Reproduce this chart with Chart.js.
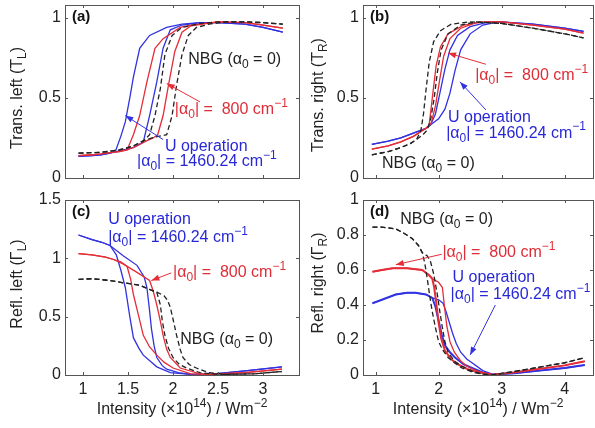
<!DOCTYPE html>
<html><head><meta charset="utf-8">
<script src="https://cdn.jsdelivr.net/npm/chart.js@4.4.1/dist/chart.umd.min.js"></script>
<style>
html,body{margin:0;padding:0;background:#fff;width:595px;height:428px;overflow:hidden}
canvas{position:absolute;left:0;top:0}
</style></head><body>
<canvas id="ca" width="595" height="428"></canvas>
<canvas id="cb" width="595" height="428"></canvas>
<canvas id="cc" width="595" height="428"></canvas>
<canvas id="cd" width="595" height="428"></canvas>
<script>
// ---------- tick labels ----------
const xTicksLeft = [1, 1.5, 2, 2.5, 3];
const xTicksRight = [1, 2, 3, 4];
const yTicksT = [0, 0.5, 1];
const yTicksRL = [0, 0.5, 1, 1.5];
const yTicksRR = [0, 0.2, 0.4, 0.6, 0.8, 1];

// ---------- (a) Transmission left ----------
const aBlue1X = [0.95,1.1,1.2,1.3,1.36,1.42,1.47,1.52,1.56,1.63,1.74,1.93,2.1,2.3,2.5,2.8,3.0,3.22];
const aBlue1Y = [0.135,0.14,0.145,0.155,0.165,0.26,0.35,0.5,0.63,0.81,0.89,0.94,0.96,0.97,0.97,0.96,0.94,0.91];
const aBlue2X = [0.95,1.1,1.2,1.3,1.45,1.56,1.67,1.74,1.82,1.89,1.97,2.1,2.3,2.5,2.8,3.0,3.22];
const aBlue2Y = [0.135,0.14,0.145,0.155,0.175,0.19,0.225,0.39,0.6,0.81,0.925,0.955,0.97,0.97,0.96,0.94,0.91];
const aRed1X = [0.95,1.1,1.2,1.3,1.4,1.49,1.56,1.63,1.71,1.8,1.89,2.08,2.2,2.5,2.8,3.0,3.22];
const aRed1Y = [0.14,0.145,0.15,0.158,0.165,0.175,0.27,0.39,0.6,0.81,0.87,0.94,0.955,0.975,0.97,0.955,0.935];
const aRed2X = [0.95,1.1,1.2,1.3,1.4,1.49,1.6,1.7,1.78,1.83,1.89,1.95,2.02,2.1,2.2,2.5,2.8,3.0,3.22];
const aRed2Y = [0.14,0.145,0.15,0.158,0.165,0.175,0.2,0.23,0.25,0.27,0.39,0.58,0.79,0.91,0.95,0.975,0.97,0.955,0.935];
const aNbg1X = [0.95,1.2,1.4,1.56,1.68,1.74,1.8,1.86,1.91,1.99,2.1,2.3,2.5,2.8,3.0,3.22];
const aNbg1Y = [0.155,0.16,0.175,0.2,0.235,0.27,0.39,0.56,0.77,0.89,0.94,0.965,0.975,0.975,0.97,0.96];
const aNbg2X = [0.95,1.2,1.4,1.56,1.68,1.8,1.93,1.99,2.04,2.1,2.17,2.26,2.4,2.6,2.8,3.0,3.22];
const aNbg2Y = [0.155,0.16,0.175,0.2,0.235,0.255,0.27,0.39,0.58,0.77,0.89,0.94,0.96,0.975,0.975,0.97,0.96];

// ---------- (b) Transmission right ----------
const bBlue1X = [0.94,1.2,1.4,1.6,1.8,1.87,1.95,2.02,2.1,2.18,2.3,2.5,2.8,3.0,3.5,4.0,4.3];
const bBlue1Y = [0.21,0.23,0.25,0.28,0.31,0.33,0.4,0.53,0.68,0.8,0.89,0.945,0.975,0.975,0.96,0.935,0.915];
const bBlue2X = [0.94,1.2,1.4,1.6,1.8,1.9,2.0,2.1,2.18,2.26,2.35,2.5,2.7,2.95,3.5,4.0,4.3];
const bBlue2Y = [0.21,0.23,0.25,0.28,0.31,0.34,0.37,0.43,0.53,0.67,0.8,0.9,0.955,0.975,0.96,0.935,0.915];
const bRed1X = [0.94,1.2,1.4,1.6,1.8,1.85,1.9,1.96,2.03,2.15,2.4,2.7,3.0,3.5,4.0,4.3];
const bRed1Y = [0.18,0.2,0.225,0.26,0.31,0.33,0.5,0.7,0.82,0.9,0.955,0.975,0.975,0.955,0.93,0.905];
const bRed2X = [0.94,1.2,1.4,1.6,1.8,1.88,1.95,2.02,2.08,2.18,2.35,2.6,2.8,3.0,3.5,4.0,4.3];
const bRed2Y = [0.18,0.2,0.225,0.26,0.31,0.34,0.45,0.62,0.76,0.87,0.935,0.97,0.975,0.975,0.955,0.93,0.905];
const bNbg1X = [0.94,1.2,1.4,1.55,1.65,1.72,1.76,1.8,1.85,1.92,2.03,2.2,2.5,3.0,3.5,4.0,4.3];
const bNbg1Y = [0.145,0.165,0.19,0.215,0.24,0.3,0.4,0.55,0.72,0.85,0.92,0.96,0.975,0.965,0.935,0.9,0.875];
const bNbg2X = [0.94,1.2,1.4,1.55,1.65,1.75,1.82,1.88,1.93,1.98,2.04,2.15,2.35,2.6,3.0,3.5,4.0,4.3];
const bNbg2Y = [0.145,0.165,0.19,0.215,0.24,0.27,0.3,0.38,0.5,0.66,0.8,0.9,0.955,0.975,0.965,0.935,0.9,0.875];

// ---------- (c) Reflection left ----------
const cBlue1X = [0.95,1.1,1.2,1.3,1.37,1.42,1.47,1.52,1.56,1.62,1.67,1.82,1.97,2.2,2.4,2.8,3.21];
const cBlue1Y = [1.2,1.16,1.14,1.11,1.03,0.9,0.75,0.5,0.32,0.23,0.17,0.07,0.02,0.005,0.005,0.035,0.07];
const cBlue2X = [0.95,1.1,1.2,1.3,1.45,1.6,1.68,1.71,1.74,1.76,1.79,1.82,1.88,1.93,2.06,2.2,2.4,2.8,3.21];
const cBlue2Y = [1.2,1.16,1.14,1.11,1.02,0.94,0.84,0.75,0.55,0.4,0.25,0.15,0.08,0.05,0.02,0.005,0.005,0.035,0.07];
const cRed1X = [0.95,1.1,1.25,1.34,1.42,1.49,1.53,1.56,1.62,1.67,1.74,1.82,1.9,2.0,2.2,2.4,2.8,3.21];
const cRed1Y = [1.04,1.03,1.01,0.99,0.97,0.93,0.82,0.69,0.5,0.34,0.24,0.17,0.11,0.06,0.01,0.005,0.02,0.05];
const cRed2X = [0.95,1.1,1.25,1.34,1.45,1.6,1.74,1.78,1.82,1.86,1.89,1.93,1.97,2.08,2.3,2.4,2.8,3.21];
const cRed2Y = [1.04,1.03,1.01,0.99,0.95,0.88,0.81,0.72,0.6,0.46,0.34,0.22,0.15,0.06,0.01,0.005,0.02,0.05];
const cNbg1X = [0.95,1.1,1.3,1.45,1.63,1.75,1.82,1.86,1.88,1.91,1.95,2.0,2.07,2.15,2.3,2.5,2.9,3.21];
const cNbg1Y = [0.82,0.825,0.81,0.79,0.77,0.73,0.71,0.6,0.47,0.34,0.23,0.15,0.09,0.06,0.02,0.005,0.01,0.03];
const cNbg2X = [0.95,1.1,1.3,1.45,1.63,1.75,1.82,1.9,1.94,1.97,2.0,2.04,2.08,2.11,2.18,2.26,2.4,2.6,2.9,3.21];
const cNbg2Y = [0.82,0.825,0.81,0.79,0.77,0.73,0.71,0.68,0.64,0.58,0.48,0.34,0.22,0.15,0.09,0.06,0.02,0.005,0.01,0.03];

// ---------- (d) Reflection right ----------
const dBlue1X = [0.95,1.1,1.32,1.5,1.63,1.8,1.9,1.95,2.0,2.05,2.1,2.18,2.26,2.4,2.53,2.7,2.85,3.2,3.6,4.0,4.32];
const dBlue1Y = [0.41,0.43,0.46,0.47,0.47,0.46,0.44,0.39,0.31,0.23,0.17,0.13,0.1,0.06,0.04,0.015,0.002,0.01,0.025,0.04,0.057];
const dBlue2X = [0.95,1.1,1.32,1.5,1.63,1.8,1.9,2.0,2.07,2.12,2.17,2.22,2.28,2.35,2.45,2.53,2.7,2.85,3.2,3.6,4.0,4.32];
const dBlue2Y = [0.41,0.43,0.46,0.47,0.47,0.46,0.44,0.43,0.41,0.36,0.3,0.24,0.18,0.13,0.09,0.07,0.025,0.005,0.01,0.025,0.04,0.057];
const dRed1X = [0.95,1.1,1.27,1.5,1.74,1.85,1.9,1.93,1.96,2.0,2.04,2.1,2.2,2.31,2.45,2.63,2.85,3.2,3.6,4.0,4.32];
const dRed1Y = [0.59,0.6,0.61,0.61,0.6,0.57,0.55,0.5,0.42,0.3,0.21,0.14,0.09,0.06,0.035,0.015,0.002,0.015,0.035,0.055,0.078];
const dRed2X = [0.95,1.1,1.27,1.5,1.74,1.85,1.9,2.0,2.06,2.09,2.13,2.18,2.25,2.35,2.45,2.63,2.85,3.2,3.6,4.0,4.32];
const dRed2Y = [0.59,0.6,0.61,0.61,0.6,0.57,0.55,0.53,0.5,0.4,0.28,0.19,0.13,0.08,0.05,0.02,0.002,0.015,0.035,0.055,0.078];
const dNbg1X = [0.95,1.1,1.32,1.45,1.58,1.68,1.74,1.78,1.82,1.86,1.9,1.95,2.0,2.07,2.15,2.25,2.37,2.55,2.7,2.85,3.2,3.6,4.0,4.32];
const dNbg1Y = [0.845,0.845,0.835,0.81,0.78,0.74,0.7,0.64,0.55,0.45,0.36,0.27,0.19,0.14,0.1,0.07,0.04,0.015,0.005,0,0.02,0.045,0.07,0.1];
const dNbg2X = [0.95,1.1,1.32,1.45,1.58,1.68,1.74,1.82,1.87,1.92,1.98,2.02,2.06,2.1,2.15,2.25,2.37,2.55,2.7,2.85,3.2,3.6,4.0,4.32];
const dNbg2Y = [0.845,0.845,0.835,0.81,0.78,0.74,0.7,0.68,0.65,0.58,0.46,0.36,0.27,0.19,0.13,0.08,0.05,0.02,0.005,0,0.02,0.045,0.07,0.1];

// ---------- styles ----------
const FONT = "'Liberation Sans', Arial, Helvetica, sans-serif";
const BLUE = 'rgb(50,50,225)';
const RED = 'rgb(228,45,55)';
const BLACK = '#222';
const BLUE_TXT = 'rgb(40,40,215)';
const RED_TXT = 'rgb(222,45,55)';

function S(x, y, color, dash, width) { return { x, y, color, dash, width }; }

const A800 = [['|α',''],['0','sub'],['| =  800 cm',''],['−1','sup']];
const A1460 = [['|α',''],['0','sub'],['| = 1460.24 cm',''],['−1','sup']];
const UOP = [['U operation','']];
const NBG = [['NBG (α',''],['0','sub'],[' = 0)','']];
const XTITLE = [['Intensity (×10',''],['14','sup'],[') / Wm',''],['−2','sup']];

function drawRich(ctx, segs, x, y, size, color, align) {
  const small = Math.round(size * 0.72);
  let w = 0;
  segs.forEach(s => {
    ctx.font = (s[1] ? small : size) + 'px ' + FONT;
    w += ctx.measureText(s[0]).width;
  });
  let cx = align === 'center' ? x - w / 2 : x;
  ctx.fillStyle = color;
  ctx.textBaseline = 'middle';
  ctx.textAlign = 'left';
  segs.forEach(s => {
    ctx.font = (s[1] ? small : size) + 'px ' + FONT;
    const dy = s[1] === 'sub' ? size * 0.32 : (s[1] === 'sup' ? -size * 0.38 : 0);
    ctx.fillText(s[0], cx, y + dy);
    cx += ctx.measureText(s[0]).width;
  });
}

function arrow(ctx, x1, y1, x2, y2, color) {
  ctx.strokeStyle = color; ctx.fillStyle = color; ctx.lineWidth = 1;
  ctx.setLineDash([]);
  ctx.beginPath(); ctx.moveTo(x1, y1); ctx.lineTo(x2, y2); ctx.stroke();
  const ang = Math.atan2(y2 - y1, x2 - x1), L = 8, H = 3;
  ctx.beginPath();
  ctx.moveTo(x2, y2);
  ctx.lineTo(x2 - L * Math.cos(ang) + H * Math.sin(ang), y2 - L * Math.sin(ang) - H * Math.cos(ang));
  ctx.lineTo(x2 - L * Math.cos(ang) - H * Math.sin(ang), y2 - L * Math.sin(ang) + H * Math.cos(ang));
  ctx.closePath(); ctx.fill();
}

const fmt = v => String(+(+v).toFixed(2));

function makePanel(id, cfg) {
  const yW = 45, xH = 30;
  return new Chart(document.getElementById(id), {
    type: 'line',
    data: {
      datasets: cfg.series.map(s => ({
        data: s.x.map((v, i) => ({ x: v, y: s.y[i] })),
        borderColor: s.color, borderWidth: s.width, borderDash: s.dash,
        pointRadius: 0, tension: 0, fill: false
      }))
    },
    options: {
      responsive: false, animation: false, events: [],
      layout: { padding: { left: cfg.box[0] - yW, right: 595 - cfg.box[1], top: cfg.box[2], bottom: 428 - cfg.box[3] - xH } },
      plugins: { legend: { display: false }, tooltip: { enabled: false }, title: { display: false } },
      scales: {
        x: {
          type: 'linear', min: cfg.xr[0], max: cfg.xr[1],
          afterBuildTicks: s => { s.ticks = cfg.xt.map(v => ({ value: v })); },
          afterFit: s => { s.height = xH; s.paddingLeft = 0; s.paddingRight = 0; s.paddingTop = 0; s.paddingBottom = 0; },
          grid: { display: false, drawTicks: false }, border: { display: false },
          ticks: { display: cfg.xLabels, font: { family: FONT, size: 16 }, color: '#222', padding: 5, maxRotation: 0, minRotation: 0, autoSkip: false, callback: fmt }
        },
        y: {
          type: 'linear', min: cfg.yr[0], max: cfg.yr[1],
          afterBuildTicks: s => { s.ticks = cfg.yt.map(v => ({ value: v })); },
          afterFit: s => { s.width = yW; s.paddingLeft = 0; s.paddingRight = 0; s.paddingTop = 0; s.paddingBottom = 0; },
          grid: { display: false, drawTicks: false }, border: { display: false },
          ticks: { font: { family: FONT, size: 16 }, color: '#222', padding: 4, autoSkip: false, callback: fmt }
        }
      }
    },
    plugins: [{
      id: 'deco',
      afterDraw(chart) {
        const { ctx, chartArea: ca, scales: { x, y } } = chart;
        ctx.save();
        ctx.setLineDash([]);
        ctx.strokeStyle = '#555'; ctx.lineWidth = 1;
        ctx.strokeRect(Math.round(ca.left) + 0.5, Math.round(ca.top) + 0.5, Math.round(ca.right - ca.left), Math.round(ca.bottom - ca.top));
        const tl = 3;
        ctx.beginPath();
        x.ticks.forEach(t => {
          const p = Math.round(x.getPixelForValue(t.value)) + 0.5;
          ctx.moveTo(p, ca.bottom); ctx.lineTo(p, ca.bottom - tl);
          ctx.moveTo(p, ca.top); ctx.lineTo(p, ca.top + tl);
        });
        y.ticks.forEach(t => {
          const p = Math.round(y.getPixelForValue(t.value)) + 0.5;
          ctx.moveTo(ca.left, p); ctx.lineTo(ca.left + tl, p);
          ctx.moveTo(ca.right, p); ctx.lineTo(ca.right - tl, p);
        });
        ctx.stroke();
        // panel label
        ctx.font = 'bold 15px ' + FONT; ctx.fillStyle = '#111';
        ctx.textBaseline = 'middle'; ctx.textAlign = 'left';
        ctx.fillText(cfg.label, ca.left + 7, ca.top + 12);
        // annotations
        cfg.notes.forEach(n => {
          drawRich(ctx, n.segs, x.getPixelForValue(n.at[0]), y.getPixelForValue(n.at[1]), 16, n.color, 'left');
        });
        cfg.arrows.forEach(a => {
          arrow(ctx, x.getPixelForValue(a.from[0]), y.getPixelForValue(a.from[1]),
                x.getPixelForValue(a.to[0]), y.getPixelForValue(a.to[1]), a.color);
        });
        // y title
        ctx.save();
        ctx.translate(cfg.yTitlePos[0], cfg.yTitlePos[1]);
        ctx.rotate(-Math.PI / 2);
        drawRich(ctx, cfg.yTitle, 0, 0, 16, '#222', 'center');
        ctx.restore();
        if (cfg.xLabels) drawRich(ctx, XTITLE, (ca.left + ca.right) / 2, 410, 16, '#222', 'center');
        ctx.restore();
      }
    }]
  });
}

const LW = 1.3, LWD = 2;
makePanel('ca', {
  box: [65, 299, 5, 178], xr: [0.8, 3.4], yr: [0, 1.08], xt: xTicksLeft, yt: yTicksT, xLabels: false,
  label: '(a)', yTitle: [['Trans. left (T',''],['L','sub'],[')','']], yTitlePos: [18, 98],
  series: [
    S(aNbg1X, aNbg1Y, BLACK, [5, 3], LW), S(aNbg2X, aNbg2Y, BLACK, [5, 3], LW),
    S(aRed1X, aRed1Y, RED, [], LW), S(aRed2X, aRed2Y, RED, [], LW),
    S(aBlue1X, aBlue1Y, BLUE, [], LW), S(aBlue2X, aBlue2Y, BLUE, [], LW)
  ],
  notes: [
    { segs: NBG, at: [2.17, 0.74], color: BLACK },
    { segs: A800, at: [2.02, 0.425], color: RED_TXT },
    { segs: UOP, at: [1.91, 0.195], color: BLUE_TXT },
    { segs: A1460, at: [1.6, 0.1], color: BLUE_TXT }
  ],
  arrows: [
    { from: [2.3, 0.475], to: [1.93, 0.59], color: RED },
    { from: [1.89, 0.24], to: [1.47, 0.39], color: BLUE }
  ]
});
makePanel('cb', {
  box: [363, 593, 5, 178], xr: [0.8, 4.45], yr: [0, 1.08], xt: xTicksRight, yt: yTicksT, xLabels: false,
  label: '(b)', yTitle: [['Trans. right (T',''],['R','sub'],[')','']], yTitlePos: [319, 95],
  series: [
    S(bNbg1X, bNbg1Y, BLACK, [5, 3], LW), S(bNbg2X, bNbg2Y, BLACK, [5, 3], LW),
    S(bRed1X, bRed1Y, RED, [], LW), S(bRed2X, bRed2Y, RED, [], LW),
    S(bBlue1X, bBlue1Y, BLUE, [], LW), S(bBlue2X, bBlue2Y, BLUE, [], LW)
  ],
  notes: [
    { segs: NBG, at: [1.1, 0.09], color: BLACK },
    { segs: A800, at: [2.58, 0.64], color: RED_TXT },
    { segs: UOP, at: [2.15, 0.375], color: BLUE_TXT },
    { segs: A1460, at: [2.12, 0.28], color: BLUE_TXT }
  ],
  arrows: [
    { from: [2.75, 0.71], to: [2.15, 0.78], color: RED },
    { from: [2.75, 0.425], to: [2.34, 0.6], color: BLUE }
  ]
});
makePanel('cc', {
  box: [65, 299, 200, 375], xr: [0.8, 3.4], yr: [0, 1.5], xt: xTicksLeft, yt: yTicksRL, xLabels: true,
  label: '(c)', yTitle: [['Refl. left (Γ',''],['L','sub'],[')','']], yTitlePos: [18, 284],
  series: [
    S(cNbg1X, cNbg1Y, BLACK, [5, 3], LW), S(cNbg2X, cNbg2Y, BLACK, [5, 3], LW),
    S(cRed1X, cRed1Y, RED, [], LW), S(cRed2X, cRed2Y, RED, [], LW),
    S(cBlue1X, cBlue1Y, BLUE, [], LW), S(cBlue2X, cBlue2Y, BLUE, [], LW)
  ],
  notes: [
    { segs: UOP, at: [1.28, 1.33], color: BLUE_TXT },
    { segs: A1460, at: [1.28, 1.18], color: BLUE_TXT },
    { segs: A800, at: [2.0, 0.88], color: RED_TXT },
    { segs: NBG, at: [2.08, 0.3], color: BLACK }
  ],
  arrows: [
    { from: [1.98, 0.875], to: [1.76, 0.81], color: RED }
  ]
});
makePanel('cd', {
  box: [363, 593, 200, 375], xr: [0.8, 4.45], yr: [0, 1], xt: xTicksRight, yt: yTicksRR, xLabels: true,
  label: '(d)', yTitle: [['Refl. right (Γ',''],['R','sub'],[')','']], yTitlePos: [319, 283],
  series: [
    S(dNbg1X, dNbg1Y, BLACK, [5, 3], LW), S(dNbg2X, dNbg2Y, BLACK, [5, 3], LW),
    S(dRed1X, dRed1Y, RED, [], LWD), S(dRed2X, dRed2Y, RED, [], LW),
    S(dBlue1X, dBlue1Y, BLUE, [], LWD), S(dBlue2X, dBlue2Y, BLUE, [], LW)
  ],
  notes: [
    { segs: NBG, at: [1.39, 0.886], color: BLACK },
    { segs: A800, at: [2.06, 0.70], color: RED_TXT },
    { segs: UOP, at: [2.22, 0.555], color: BLUE_TXT },
    { segs: A1460, at: [2.19, 0.457], color: BLUE_TXT }
  ],
  arrows: [
    { from: [2.05, 0.69], to: [1.32, 0.63], color: RED },
    { from: [2.9, 0.4], to: [2.5, 0.114], color: BLUE }
  ]
});
</script>
</body></html>
